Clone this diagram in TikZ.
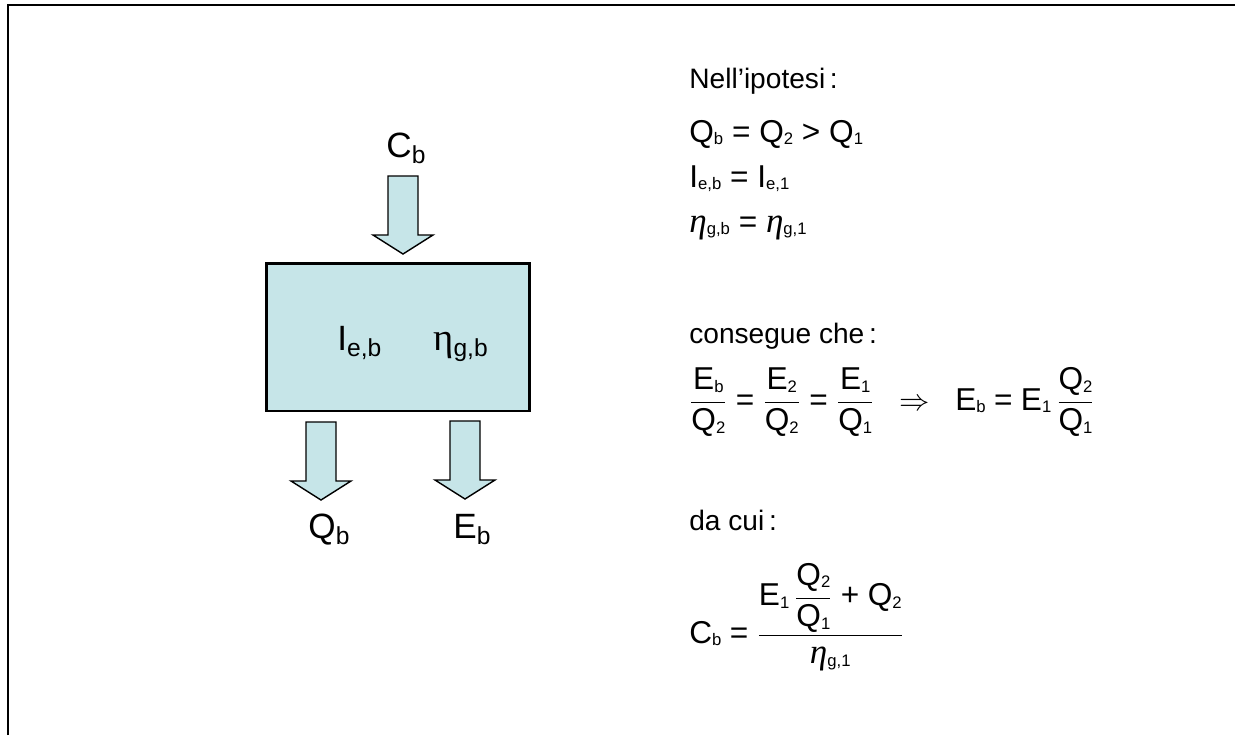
\documentclass[tikz,border=0pt]{standalone}
\usepackage{amsmath}
\usepackage{fontspec}
\setmainfont{Liberation Sans}
\newfontfamily\greekfont{Liberation Serif}
\definecolor{plantfill}{RGB}{198,229,232}
\usetikzlibrary{positioning}

\newcommand{\lsub}[2]{#1\raisebox{-3.5pt}{\fontsize{14}{14}\selectfont #2}}
\newcommand{\esub}[2]{#1\raisebox{-1.5pt}{\fontsize{9.5}{10}\selectfont #2}}
\newcommand{\etaeq}[1]{\esub{{\greekfont\itshape\fontsize{20}{20}\selectfont η}}{#1}}
\newcommand{\etabox}[1]{\lsub{{\greekfont\fontsize{22}{22}\selectfont η}}{#1}}

\begin{document}
\begin{tikzpicture}[x=0.02cm, y=-0.02cm,
    plantbox/.style={rectangle, draw=black, line width=1.7pt, fill=plantfill,
                     minimum width=5.28cm, minimum height=2.96cm, inner sep=0pt},
    flowarr/.style={draw=black, line width=0.8pt, fill=plantfill, line join=miter},
    lbl/.style={font=\fontsize{20}{24}\selectfont, inner sep=0pt, anchor=base},
    txt/.style={font=\fontsize{16}{19}\selectfont, inner sep=0pt, anchor=base west},
    eqn/.style={font=\fontsize{18}{22}\selectfont, inner sep=0pt, anchor=base west},
    flow/.pic={\path[flowarr] (-15,0) -- (15,0) -- (15,59) -- (30,59) -- (0,78)
                              -- (-30,59) -- (-15,59) -- cycle;}
  ]
    \useasboundingbox (0,0) rectangle (1235,735);
    % Frame
    \draw[line width=1.1pt] (8,735) -- (8,5) -- (1235,5);

    % Plant and its flows
    \node[plantbox] (plant) at (398,337) {};
    \node[lbl, anchor=base west] (ieb)  at (337,350) {\lsub{I}{e,b}};
    \node[lbl, anchor=base west] (etab) at (433,350) {\etabox{g,b}};

    \pic at (403,176) {flow};
    \pic at (321,422) {flow};
    \pic at (465,421) {flow};
    \node[lbl] (cb) at (406,157) {\lsub{C}{b}};
    \node[lbl] (qb) at (329,538) {\lsub{Q}{b}};
    \node[lbl] (eb) at (472,538) {\lsub{E}{b}};

    % Hypotheses
    \node[txt] (hyp) at (689,88) {Nell'ipotesi\,:};
    \node[eqn] (hq) at (689,142) {\esub{Q}{b} = \esub{Q}{2} > \esub{Q}{1}};
    \node[eqn] (hi) at (689,187) {\esub{I}{e,b} = \esub{I}{e,1}};
    \node[eqn] (he) at (689,232) {\etaeq{g,b} = \etaeq{g,1}};

    % Consequence
    \node[txt] (cons) at (689,343) {consegue che\,:};
    \node[eqn] (ratio) at (689,410) {$\genfrac{}{}{0.5pt}{0}{\text{\esub{E}{b}}}{\text{\esub{Q}{2}}}
        \;\text{=}\;\genfrac{}{}{0.5pt}{0}{\text{\esub{E}{2}}}{\text{\esub{Q}{2}}}
        \;\text{=}\;\genfrac{}{}{0.5pt}{0}{\text{\esub{E}{1}}}{\text{\esub{Q}{1}}}
        \;\;\Rightarrow\;\;\text{\esub{E}{b}}\;\text{=}\;\text{\esub{E}{1}}\,
        \genfrac{}{}{0.5pt}{0}{\text{\esub{Q}{2}}}{\text{\esub{Q}{1}}}$};

    % Result
    \node[txt] (cui) at (689,530) {da cui\,:};
    \node[eqn] (res) at (689,643) {$\text{\esub{C}{b}}\;\text{=}\;
        \genfrac{}{}{0.5pt}{0}{\text{\esub{E}{1}}\,\genfrac{}{}{0.5pt}{0}{\text{\esub{Q}{2}}}{\text{\esub{Q}{1}}}
        \;\text{+}\;\text{\esub{Q}{2}}}{\text{\etaeq{g,1}}}$};
\end{tikzpicture}
\end{document}
